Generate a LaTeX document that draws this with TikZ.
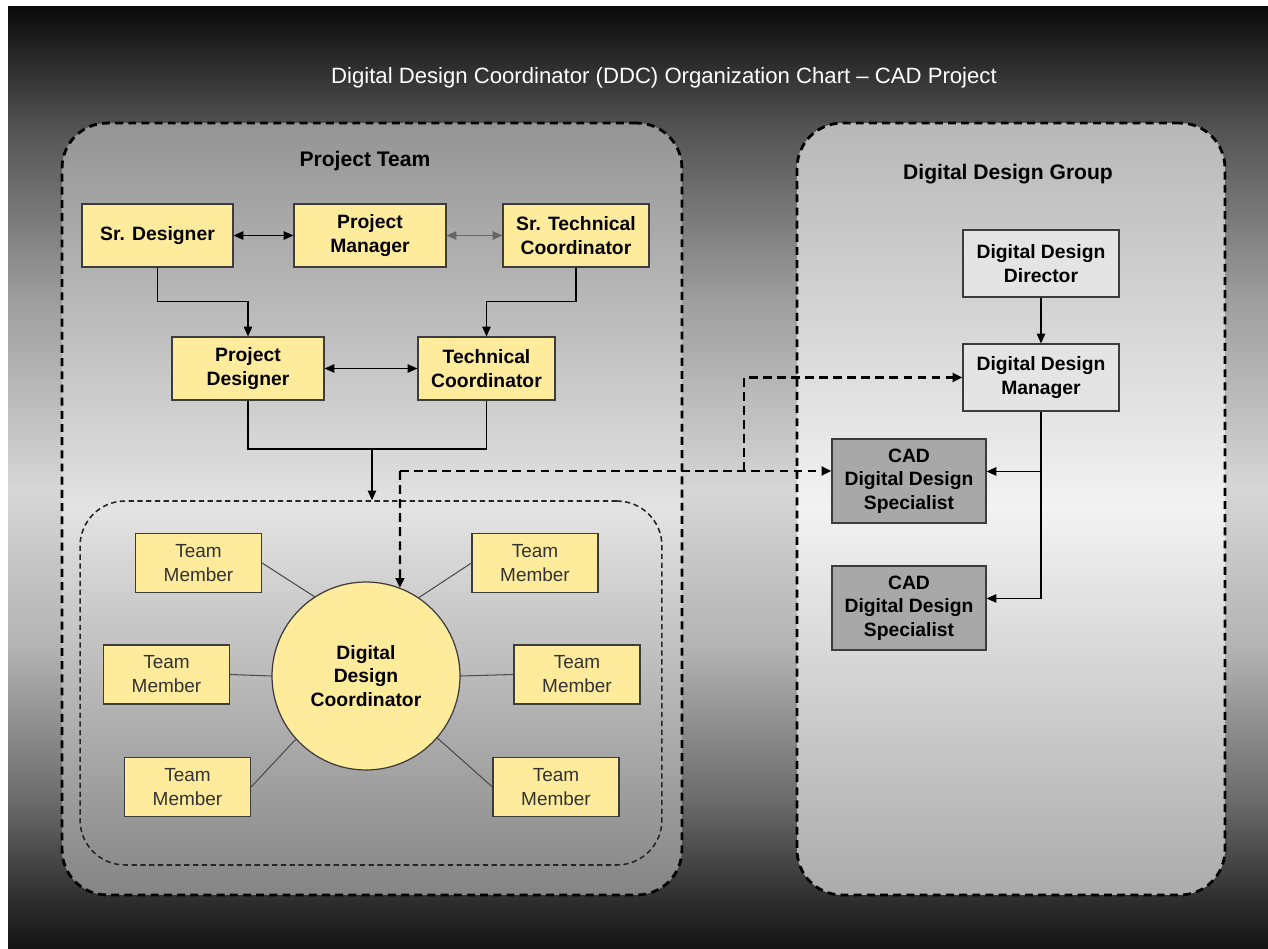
\documentclass[tikz,border=0pt]{standalone}
\usepackage{fontspec}
\setmainfont{Liberation Sans}
\usetikzlibrary{arrows.meta}

\definecolor{roleyellow}{RGB}{255,235,156}
\definecolor{roleline}{RGB}{60,60,60}
\definecolor{lightrole}{RGB}{228,228,228}
\definecolor{cadrole}{RGB}{168,168,168}

\pgfdeclareverticalshading{backdrop}{100bp}{color(0bp)=(black!92); color(25bp)=(black!92);
  color(27.6bp)=(black!82); color(32.9bp)=(black!58); color(40.9bp)=(black!30);
  color(49.4bp)=(black!16); color(59.4bp)=(black!38); color(68.5bp)=(black!67);
  color(75bp)=(black!96); color(100bp)=(black!96)}

\begin{document}
\begin{tikzpicture}[x=0.02cm, y=-0.02cm,
        role/.style={draw=roleline, fill=roleyellow, line width=0.7pt, align=center, inner sep=0pt,
            minimum height=1.26cm, font={\bfseries\fontsize{11}{13.3}\selectfont}},
        member/.style={role, minimum width=2.52cm, minimum height=1.18cm,
            font={\fontsize{10.8}{13.6}\selectfont}, text=black!80},
        grouprole/.style={role, fill=lightrole, minimum width=3.12cm, minimum height=1.34cm},
        cad/.style={role, fill=cadrole, minimum width=3.08cm, minimum height=1.68cm},
        area/.style={draw=black, line width=1.6pt, dash pattern=on 4.5pt off 3pt, rounded corners=0.9cm, inner sep=0pt},
        link/.style={line width=0.6pt, -{Triangle[length=5.5pt, width=4.8pt]}},
        twoway/.style={line width=0.6pt, {Triangle[length=5.5pt, width=4.8pt]}-{Triangle[length=5.5pt, width=4.8pt]}},
        dlink/.style={line width=1.3pt, dash pattern=on 5pt off 3pt, -{Triangle[length=5.5pt, width=5pt]}},
        spoke/.style={draw=black!70, line width=0.6pt}]

    \useasboundingbox (0,0) rectangle (1268,949);
    \fill[white] (0,0) rectangle (1268,949);
    \fill[shading=backdrop] (8,7) rectangle (1268,949);

    \node[font={\fontsize{12.6}{15}\selectfont}, text=white] (title) at (664,78)
        {Digital Design Coordinator (DDC) Organization Chart -- CAD Project};

    % the two areas
    \node[area, top color=black!42, bottom color=black!48, middle color=black!11,
        minimum width=12.4cm, minimum height=15.44cm] (team) at (372,509) {};
    \node[area, top color=black!28, bottom color=black!33, middle color=black!5,
        minimum width=8.56cm, minimum height=15.44cm] (group) at (1011,509) {};
    \node[draw=black!85, line width=0.9pt, dash pattern=on 3pt off 2pt, rounded corners=0.9cm,
        minimum width=11.64cm, minimum height=7.28cm] (crew) at (371,683) {};

    \node[font={\bfseries\fontsize{12}{14}\selectfont}] (teamlabel) at (365,161) {Project Team};
    \node[font={\bfseries\fontsize{12}{14}\selectfont}] (grouplabel) at (1008,174) {Digital Design Group};

    % project team
    \node[role, minimum width=3.02cm] (srd) at (157.5,235.5) {Sr. Designer};
    \node[role, minimum width=3.04cm] (pm) at (370,235.5) {Project\\Manager};
    \node[role, minimum width=2.92cm] (srt) at (576,235.5) {Sr. Technical\\Coordinator};
    \node[role, minimum width=3.04cm] (pd) at (248,368.5) {Project\\Designer};
    \node[role, minimum width=2.74cm] (tc) at (486.5,368.5) {Technical\\Coordinator};

    \draw[twoway] (srd) -- (pm);
    \draw[twoway, draw=black!60, fill=black!60] (pm) -- (srt);
    \draw[twoway] (pd) -- (tc);
    \draw[link] (srd.south) -- ++(0,34) -| (pd.north);
    \draw[link] (srt.south) -- ++(0,34) -| (tc.north);
    \coordinate (merge) at (372,449);
    \draw[line width=0.6pt] (pd.south) |- (merge) -| (tc.south);
    \draw[link] (merge) -- (merge |- crew.north);

    % coordinator and members
    \node[role, circle, minimum size=3.76cm, align=center] (ddc) at (366,676) {Digital\\Design\\Coordinator};
    \node[member] (tm1) at (198.5,563) {Team\\Member};
    \node[member] (tm2) at (535,563) {Team\\Member};
    \node[member] (tm3) at (166.5,674.5) {Team\\Member};
    \node[member] (tm4) at (577,674.5) {Team\\Member};
    \node[member] (tm5) at (187.5,787) {Team\\Member};
    \node[member] (tm6) at (556,787) {Team\\Member};

    \draw[spoke] (tm1.east) -- (ddc.123);
    \draw[spoke] (tm2.west) -- (ddc.56);
    \draw[spoke] (tm3.east) -- (ddc.west);
    \draw[spoke] (tm4.west) -- (ddc.east);
    \draw[spoke] (tm5.east) -- (ddc.222);
    \draw[spoke] (tm6.west) -- (ddc.319);

    % digital design group
    \node[grouprole] (ddd) at (1041,263.5) {Digital Design\\Director};
    \node[grouprole] (ddm) at (1041,377.5) {Digital Design\\Manager};
    \node[cad] (cad1) at (909,481) {CAD\\Digital Design\\Specialist};
    \node[cad] (cad2) at (909,608) {CAD\\Digital Design\\Specialist};

    \draw[link] (ddd) -- (ddm);
    \draw[link] (ddm.south) |- (cad1.7);
    \draw[link] (ddm.south) |- (cad2.7);

    % dashed reporting lines
    \coordinate (cross) at (400,471);
    \coordinate (branch) at (744,471);
    \draw[dlink] (cross) -- (ddc.69);
    \draw[dlink] (cross) -- (cross -| cad1.west);
    \draw[dlink] (branch) |- (ddm.west);
\end{tikzpicture}
\end{document}
